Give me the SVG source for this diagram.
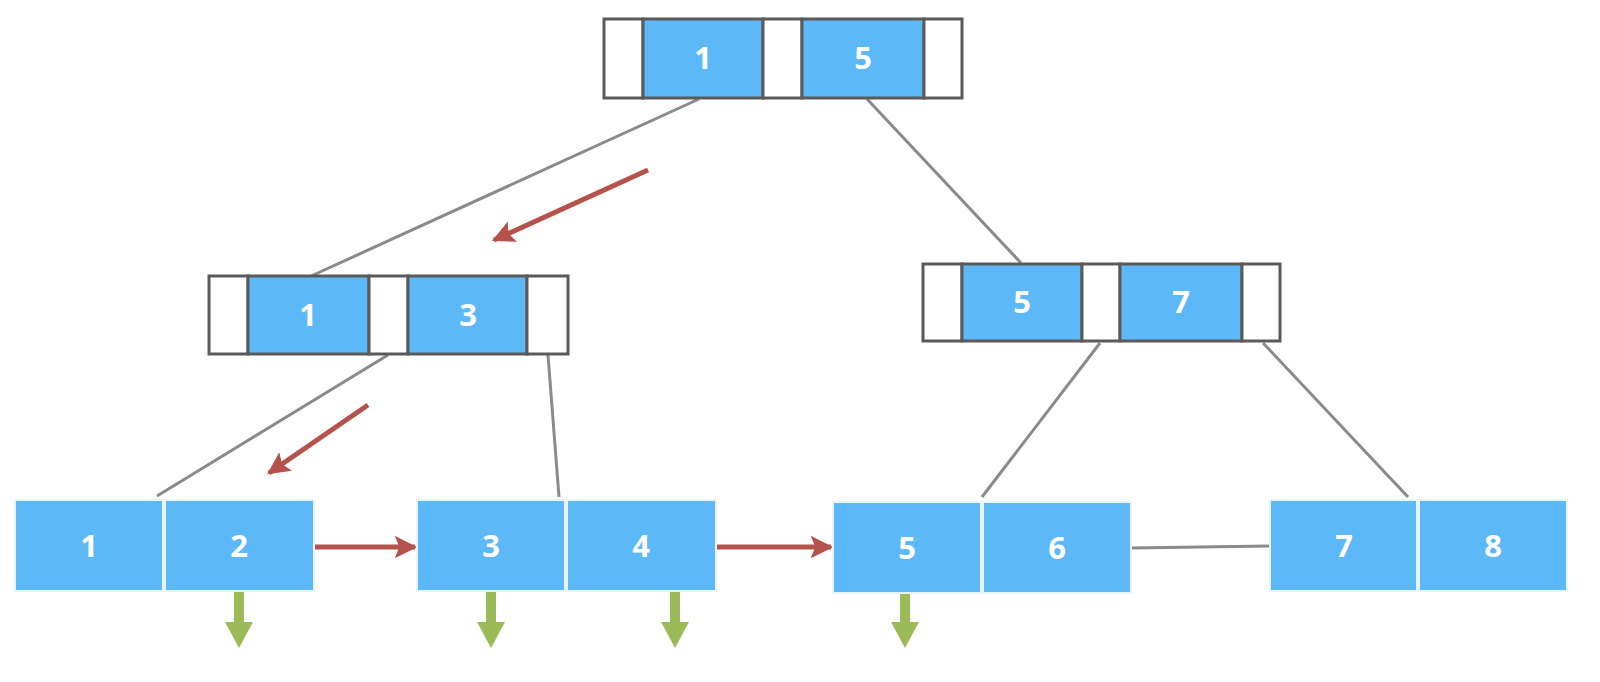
<svg xmlns="http://www.w3.org/2000/svg" width="1600" height="682" viewBox="0 0 1600 682">
<style>
.ptr{fill:#ffffff;stroke:#5a5a5a;stroke-width:3}
.key{fill:#5cb8f6;stroke:#5a5a5a;stroke-width:3}
.leaf{fill:#5cb8f6;stroke:#e8f3fa;stroke-width:2}
.t{font-family:"Open Sans","DejaVu Sans",sans-serif;font-weight:bold;font-size:31px;fill:#ffffff;text-anchor:middle}
.edge{stroke:#8a8a8a;stroke-width:3;fill:none}
.red{stroke:#b5524b;stroke-width:5;fill:none}
.green{stroke:#9bbb59;stroke-width:10;fill:none}
</style>
<defs>
<marker id="rh" viewBox="0 0 10 10" refX="9" refY="5" markerWidth="4.5" markerHeight="4.5" markerUnits="strokeWidth" orient="auto">
<path d="M0,0 L10,5 L0,10 L2,5 Z" fill="#b5524b"/>
</marker>
</defs>
<rect width="1600" height="682" fill="#ffffff"/>
<g id="connectors">
<line class="edge" x1="699" y1="99" x2="309" y2="277"/>
<line class="edge" x1="867" y1="99" x2="1021" y2="263"/>
<line class="edge" x1="388" y1="355" x2="157" y2="496"/>
<line class="edge" x1="548" y1="355" x2="559" y2="497"/>
<line class="edge" x1="1100" y1="343" x2="982" y2="497"/>
<line class="edge" x1="1263" y1="343" x2="1408" y2="497"/>
<line class="edge" x1="1131" y1="548" x2="1270" y2="546"/>
<line class="red" x1="314" y1="547" x2="415" y2="547" marker-end="url(#rh)"/>
<line class="red" x1="716" y1="547" x2="831" y2="547" marker-end="url(#rh)"/>
<line class="red" x1="648" y1="170" x2="494" y2="240" marker-end="url(#rh)"/>
<line class="red" x1="368" y1="405" x2="269" y2="473" marker-end="url(#rh)"/>
<g id="down-arrows">
<line class="green" x1="239" y1="592" x2="239" y2="624"/>
<path d="M225,622 L253,622 L239,648 Z" fill="#9bbb59"/>
<line class="green" x1="491" y1="592" x2="491" y2="624"/>
<path d="M477,622 L505,622 L491,648 Z" fill="#9bbb59"/>
<line class="green" x1="675" y1="592" x2="675" y2="624"/>
<path d="M661,622 L689,622 L675,648 Z" fill="#9bbb59"/>
<line class="green" x1="905" y1="592" x2="905" y2="624"/>
<path d="M891,622 L919,622 L905,648 Z" fill="#9bbb59"/>
</g>
</g>
<g id="root">
<rect class="ptr" x="604" y="19" width="39" height="79"/>
<rect class="key" x="643" y="19" width="120" height="79"/>
<rect class="ptr" x="763" y="19" width="39" height="79"/>
<rect class="key" x="802" y="19" width="122" height="79"/>
<rect class="ptr" x="924" y="19" width="38" height="79"/>
<text class="t" x="703" y="69">1</text>
<text class="t" x="863" y="69">5</text>
</g>
<g id="internal-left">
<rect class="ptr" x="209" y="276" width="39" height="78"/>
<rect class="key" x="248" y="276" width="121" height="78"/>
<rect class="ptr" x="369" y="276" width="39" height="78"/>
<rect class="key" x="408" y="276" width="119" height="78"/>
<rect class="ptr" x="527" y="276" width="41" height="78"/>
<text class="t" x="308" y="326">1</text>
<text class="t" x="468" y="326">3</text>
</g>
<g id="internal-right">
<rect class="ptr" x="923" y="264" width="39" height="77"/>
<rect class="key" x="962" y="264" width="120" height="77"/>
<rect class="ptr" x="1082" y="264" width="38" height="77"/>
<rect class="key" x="1120" y="264" width="122" height="77"/>
<rect class="ptr" x="1242" y="264" width="38" height="77"/>
<text class="t" x="1022" y="313">5</text>
<text class="t" x="1181" y="313">7</text>
</g>
<g id="leaf-1">
<rect class="leaf" x="15" y="500" width="148" height="91"/>
<rect class="leaf" x="165" y="500" width="149" height="91"/>
<text class="t" x="89" y="557">1</text>
<text class="t" x="239" y="557">2</text>
</g>
<g id="leaf-2">
<rect class="leaf" x="417" y="500" width="148" height="91"/>
<rect class="leaf" x="567" y="500" width="149" height="91"/>
<text class="t" x="491" y="557">3</text>
<text class="t" x="641" y="557">4</text>
</g>
<g id="leaf-3">
<rect class="leaf" x="833" y="502" width="148" height="91"/>
<rect class="leaf" x="983" y="502" width="148" height="91"/>
<text class="t" x="907" y="559">5</text>
<text class="t" x="1057" y="559">6</text>
</g>
<g id="leaf-4">
<rect class="leaf" x="1270" y="500" width="147" height="91"/>
<rect class="leaf" x="1419" y="500" width="148" height="91"/>
<text class="t" x="1344" y="557">7</text>
<text class="t" x="1493" y="557">8</text>
</g>
</svg>
